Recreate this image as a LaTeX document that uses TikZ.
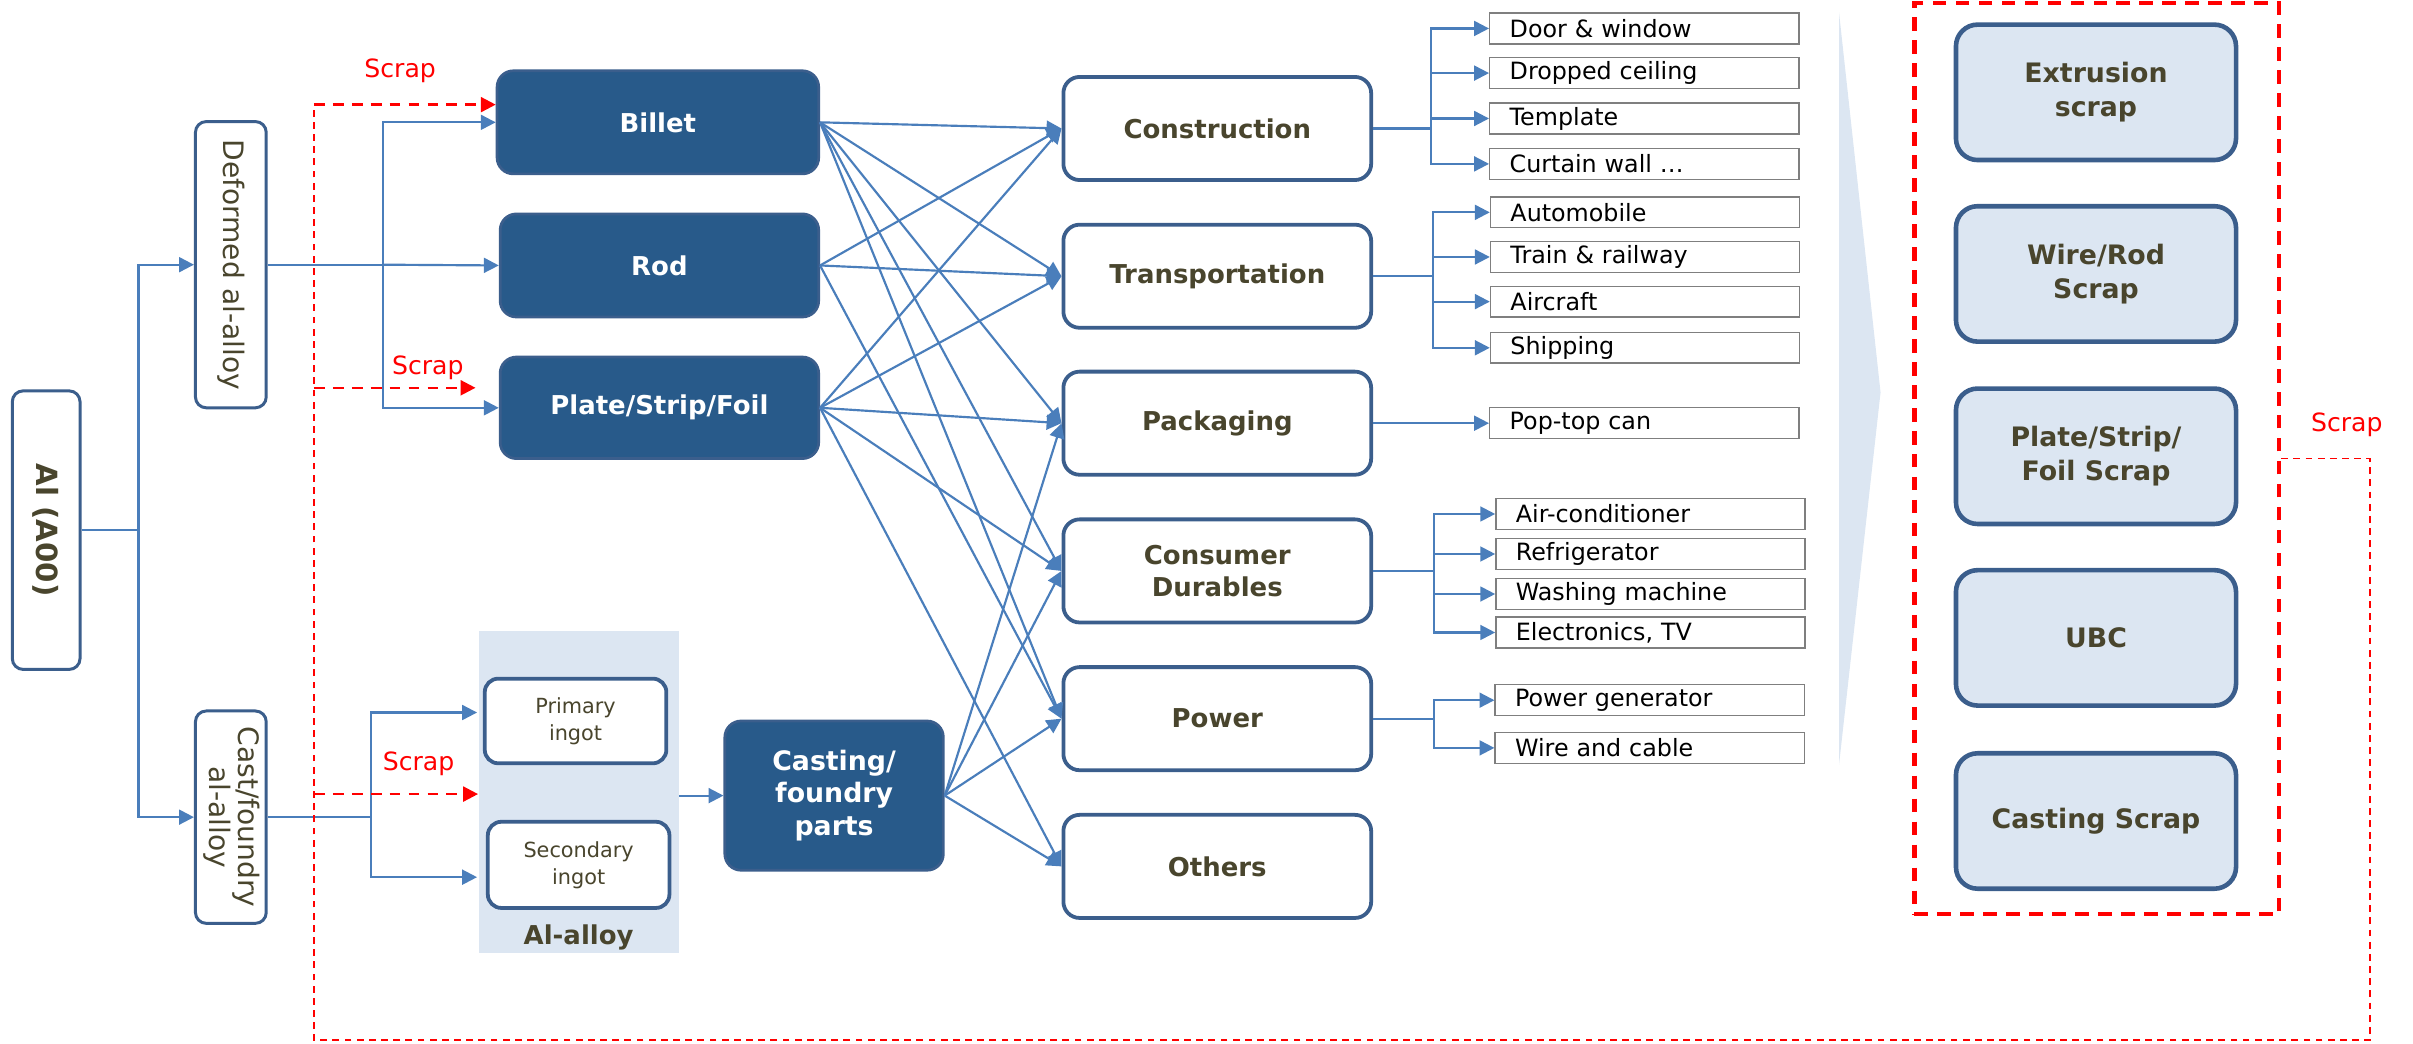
\documentclass[tikz,border=0pt]{standalone}
\usepackage{fontspec}
\setmainfont{DejaVu Sans}
\usetikzlibrary{arrows.meta}
\definecolor{dkblue}{HTML}{285A8A}
\definecolor{bord}{HTML}{3B5E8C}
\definecolor{lnblue}{HTML}{4A7EBB}
\definecolor{olive}{HTML}{49452D}
\definecolor{ltblue}{HTML}{DCE6F2}
\definecolor{scrapred}{HTML}{FF0000}
\definecolor{subgray}{HTML}{7F7F7F}
\begin{document}
\begin{tikzpicture}[x=0.02cm,y=-0.02cm,
  sz/.style 2 args={minimum width=#1*0.02cm, minimum height=#2*0.02cm},
  vbox/.style={draw=bord, line width=1.1pt, rounded corners=4pt, fill=white, inner sep=0pt, text=olive, font=\fontsize{10.4}{12.4}\selectfont},
  darkbox/.style={fill=dkblue, draw=bord, line width=1pt, rounded corners=6pt, inner sep=0pt, text=white, align=center, font=\bfseries\fontsize{9.6}{12}\selectfont},
  midbox/.style={draw=bord, line width=1.4pt, rounded corners=6pt, fill=white, inner sep=0pt, text=olive, align=center, font=\bfseries\fontsize{9.6}{12}\selectfont, sz={200}{67}},
  subbox/.style={draw=subgray, line width=0.5pt, fill=white, inner xsep=0.26cm, inner ysep=0pt, text width=3.5cm, align=left, minimum height=0.4cm, font=\fontsize{8.8}{10}\selectfont},
  ingot/.style={draw=bord, line width=1.4pt, rounded corners=5pt, fill=white, inner sep=0pt, text=olive, align=center, font=\fontsize{7.7}{10}\selectfont},
  scrapbox/.style={fill=ltblue, draw=bord, line width=1.7pt, rounded corners=8pt, inner sep=0pt, text=olive, align=center, font=\bfseries\fontsize{9.9}{12.6}\selectfont, sz={182}{88}},
  ln/.style={draw=lnblue, line width=0.8pt},
  arr/.style={draw=lnblue, line width=0.8pt, -{Triangle[length=5.5pt,width=5.5pt]}},
  redarr/.style={draw=scrapred, line width=0.9pt, dash pattern=on 4pt off 3pt, -{Triangle[length=5.5pt,width=5.5pt]}},
  redthin/.style={draw=scrapred, line width=0.6pt, dash pattern=on 2.5pt off 2pt},
  scraplbl/.style={text=scrapred, font=\fontsize{9.3}{11}\selectfont, inner sep=0pt}
]
\useasboundingbox (0,0) rectangle (1568,678);

% left column
\node[vbox, sz={44}{181}] (Al) at (30,344.5) {\rotatebox{-90}{\bfseries\fontsize{10.8}{12}\selectfont Al (A00)}};
\node[vbox, sz={46}{186}] (Def) at (150,172) {\rotatebox{-90}{Deformed al-alloy}};
\node[vbox, sz={46}{138}] (Cast) at (150,531) {\rotatebox{-90}{\begin{tabular}{@{}c@{}}Cast/foundry\\[-1.5pt]al-alloy\end{tabular}}};

% products
\node[darkbox, sz={209}{67}] (Billet) at (427.5,79.5) {Billet};
\node[darkbox, sz={207}{67}] (Rod) at (428.5,172.5) {Rod};
\node[darkbox, sz={207}{66}] (Plate) at (428.5,265) {Plate/Strip/Foil};

% Al-alloy group
\node[fill=ltblue, inner sep=0pt, sz={130}{209}] (AlBg) at (376,514.5) {};
\node[text=olive, font=\bfseries\fontsize{9.6}{12}\selectfont, inner sep=0pt] (AlLbl) at (376,609) {Al-alloy};
\node[ingot, sz={118}{55}] (Prim) at (374,468.5) {Primary\\ingot};
\node[ingot, sz={118}{56}] (Sec) at (376,562) {Secondary\\ingot};
\node[darkbox, sz={142}{97}, font=\bfseries\fontsize{9.9}{12}\selectfont] (Casting) at (542,517) {Casting/\\foundry\\parts};

% end uses
\node[midbox] (Con) at (791,83.5) {Construction};
\node[midbox] (Tra) at (791,179.5) {Transportation};
\node[midbox] (Pac) at (791,275) {Packaging};
\node[midbox] (Dur) at (791,371) {Consumer\\Durables};
\node[midbox] (Pow) at (791,467) {Power};
\node[midbox] (Oth) at (791,563) {Others};

% sub items
\node[subbox] (s11) at (1068.5,18.5) {Door \& window};
\node[subbox] (s12) at (1068.5,47.5) {Dropped ceiling};
\node[subbox] (s13) at (1068.5,77) {Template};
\node[subbox] (s14) at (1068.5,106.5) {Curtain wall …};
\node[subbox] (s21) at (1069,138) {Automobile};
\node[subbox] (s22) at (1069,167) {Train \& railway};
\node[subbox] (s23) at (1069,196) {Aircraft};
\node[subbox] (s24) at (1069,226) {Shipping};
\node[subbox] (s31) at (1068.5,275) {Pop-top can};
\node[subbox] (s41) at (1072.5,334) {Air-conditioner};
\node[subbox] (s42) at (1072.5,360) {Refrigerator};
\node[subbox] (s43) at (1072.5,386) {Washing machine};
\node[subbox] (s44) at (1072.5,411) {Electronics, TV};
\node[subbox] (s51) at (1072,455) {Power generator};
\node[subbox] (s52) at (1072,486) {Wire and cable};

% chevron
\fill[ltblue] (1195,8) -- (1222,255) -- (1195,497) -- cycle;

% scrap column
\node[draw=scrapred, line width=1.6pt, dash pattern=on 5pt off 3.5pt, inner sep=0pt, sz={237}{592}] (RB) at (1362.5,298) {};
\node[scrapbox] (x1) at (1362,60) {Extrusion\\scrap};
\node[scrapbox] (x2) at (1362,178) {Wire/Rod\\Scrap};
\node[scrapbox] (x3) at (1362,296.5) {Plate/Strip/\\Foil Scrap};
\node[scrapbox] (x4) at (1362,414.5) {UBC};
\node[scrapbox] (x5) at (1362,533.5) {Casting Scrap};

% connectors: left
\coordinate (j1) at (90,344.5);
\draw[ln] (Al.east) -- (j1);
\draw[arr] (j1) |- (Def.west);
\draw[arr] (j1) |- (Cast.west);
\coordinate (j2) at (249,172);
\draw[ln] (Def.east) -- (j2);
\draw[arr] (j2) |- (Billet.west);
\draw[arr] (j2) -- (Rod.west);
\draw[arr] (j2) |- (Plate.west);
\coordinate (j3) at (241,531);
\coordinate (t1) at (310,463);
\coordinate (t2) at (310,570);
\draw[ln] (Cast.east) -- (j3);
\draw[arr] (j3) |- (t1);
\draw[arr] (j3) |- (t2);
\draw[arr] (AlBg.east |- Casting.west) -- (Casting.west);

% scrap loop
\coordinate (r1) at (1540,298);
\coordinate (r2) at (1540,676);
\coordinate (r3) at (204,676);
\coordinate (r4) at (204,68);
\coordinate (r5) at (204,252);
\coordinate (r6) at (204,516);
\coordinate (e2) at (309,252);
\draw[redthin] (RB.east) -- (r1) -- (r2) -- (r3) -- (r4);
\draw[redarr] (r4) -- (r4 -| Billet.west);
\draw[redarr] (r5) -- (e2);
\draw[redarr] (r6) -- (r6 -| AlBg.west);
\node[scraplbl] (L1) at (260,46) {Scrap};
\node[scraplbl] (L2) at (278,239) {Scrap};
\node[scraplbl] (L3) at (272,496) {Scrap};
\node[scraplbl] (L4) at (1525,276) {Scrap};

% crossing connectors
\foreach \a/\b in {Billet/Con,Billet/Tra,Billet/Pac,Billet/Dur,Billet/Pow,
                   Rod/Con,Rod/Tra,Rod/Pow,
                   Plate/Con,Plate/Tra,Plate/Pac,Plate/Dur,Plate/Oth,
                   Casting/Pac,Casting/Dur,Casting/Pow,Casting/Oth}
  \draw[arr] (\a.east) -- (\b.west);

% branch connectors
\coordinate (b1) at (930,83.5);
\draw[ln] (Con.east) -- (b1);
\foreach \s in {s11,s12,s13,s14} \draw[arr] (b1) |- (\s.west);
\coordinate (b2) at (931,179.5);
\draw[ln] (Tra.east) -- (b2);
\foreach \s in {s21,s22,s23,s24} \draw[arr] (b2) |- (\s.west);
\draw[arr] (Pac.east) -- (s31.west);
\coordinate (b4) at (932,371);
\draw[ln] (Dur.east) -- (b4);
\foreach \s in {s41,s42,s43,s44} \draw[arr] (b4) |- (\s.west);
\coordinate (b5) at (932,467);
\draw[ln] (Pow.east) -- (b5);
\foreach \s in {s51,s52} \draw[arr] (b5) |- (\s.west);
\end{tikzpicture}
\end{document}
